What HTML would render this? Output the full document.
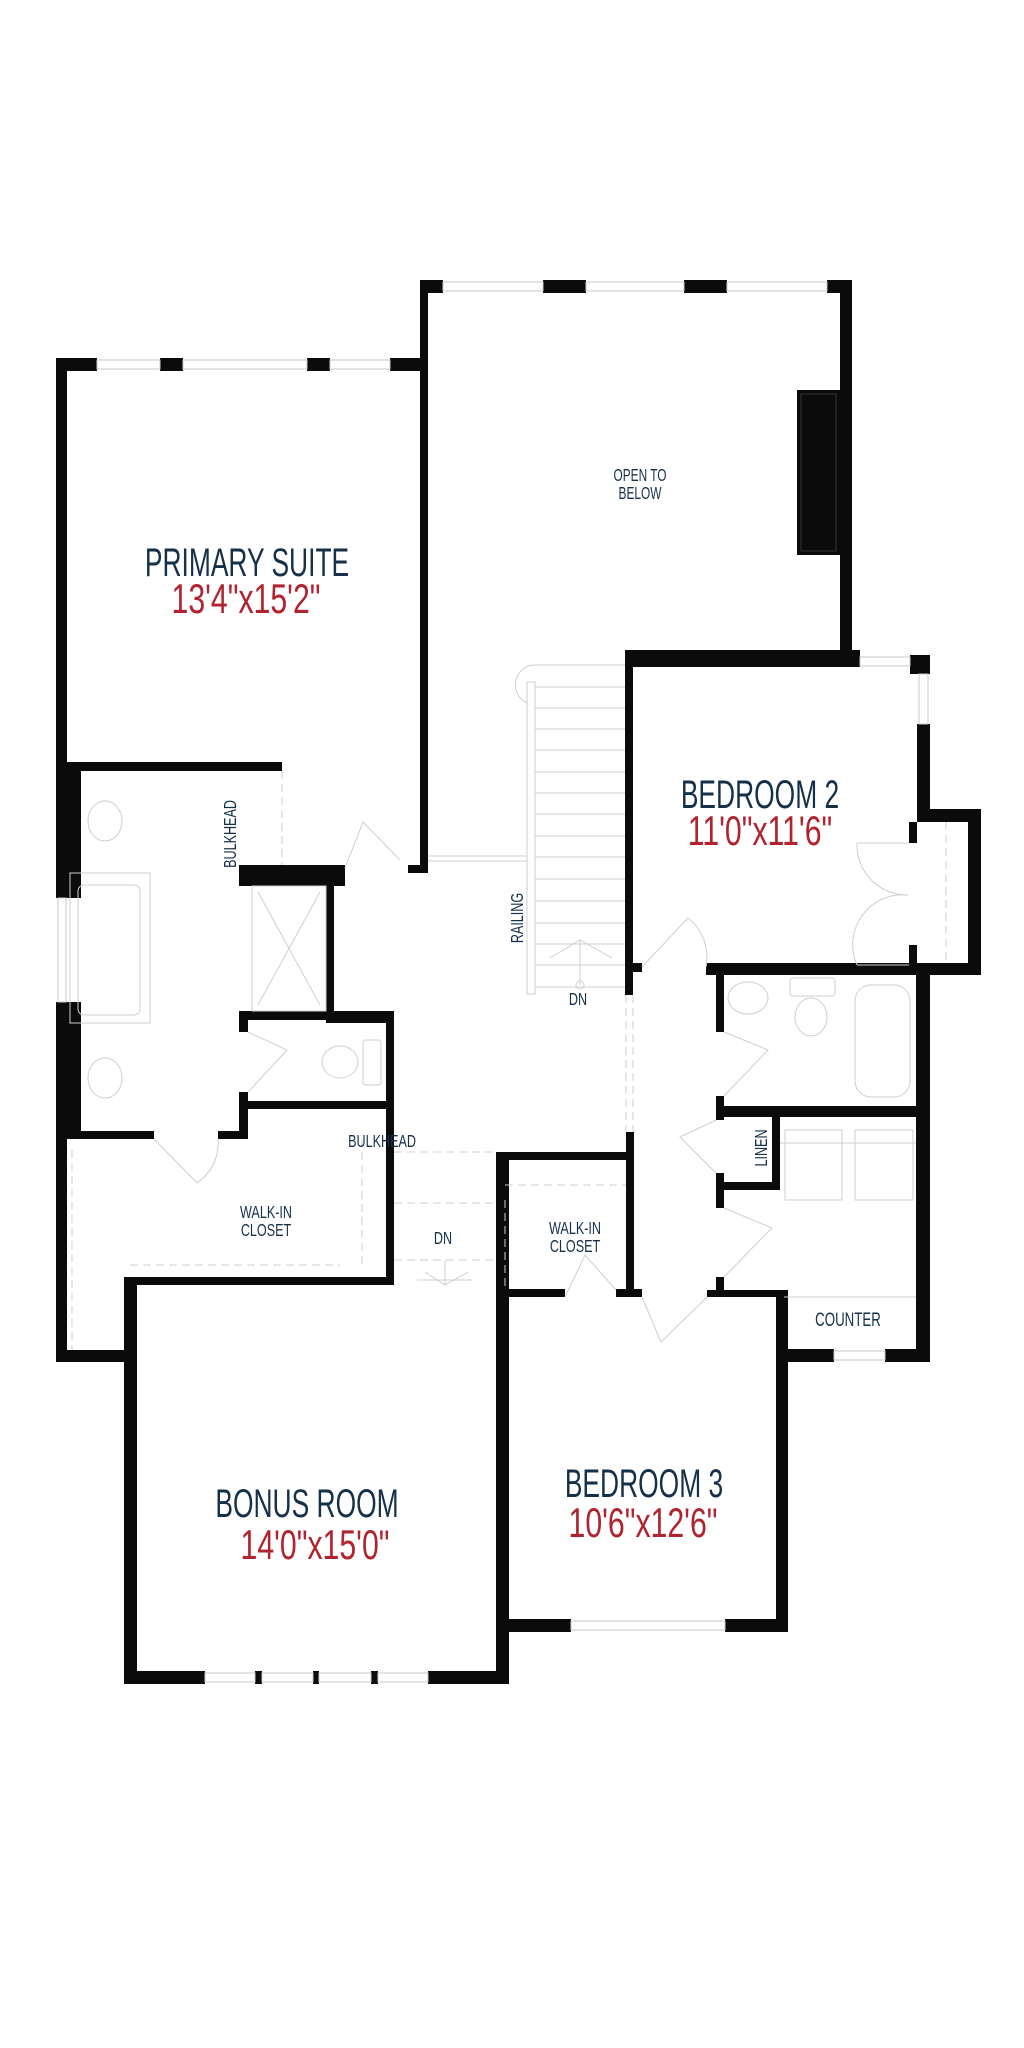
<!DOCTYPE html>
<html><head><meta charset="utf-8"><style>
html,body{margin:0;padding:0;background:#fff;}
svg{display:block;}
.t{font-family:"Liberation Sans",sans-serif;fill:#16304a;}
.r{font-family:"Liberation Sans",sans-serif;fill:#b0232f;}
</style></head><body>
<svg width="1024" height="2048" viewBox="0 0 1024 2048" xmlns="http://www.w3.org/2000/svg">
<g fill="#0b0b0b">
<rect x="56" y="358" width="41" height="13"/><rect x="160" y="358" width="23" height="13"/><rect x="307" y="358" width="23" height="13"/><rect x="390" y="358" width="38" height="13"/>
<rect x="420" y="280" width="23" height="13"/><rect x="543" y="280" width="43" height="13"/><rect x="684" y="280" width="43" height="13"/><rect x="827" y="280" width="25" height="13"/>
<rect x="420" y="280" width="8" height="593"/><rect x="408" y="865" width="20" height="8"/>
<rect x="840" y="280" width="12" height="387"/>
<rect x="797" y="390" width="43" height="165"/>
<rect x="625" y="650" width="235" height="17"/>
<rect x="910" y="655" width="20" height="19"/>
<rect x="917" y="724" width="13" height="98"/>
<rect x="917" y="809" width="64" height="13"/><rect x="968" y="809" width="13" height="166"/>
<rect x="706" y="963" width="275" height="12"/>
<rect x="909" y="822" width="8" height="21"/><rect x="909" y="945" width="8" height="18"/>
<rect x="625" y="650" width="8" height="345"/><rect x="633" y="963" width="9" height="9"/>
<rect x="626" y="1132" width="8" height="165"/>
<rect x="716" y="963" width="8" height="69"/><rect x="716" y="1096" width="8" height="24"/><rect x="716" y="1173" width="8" height="35"/><rect x="716" y="1277" width="8" height="20"/>
<rect x="916" y="963" width="14" height="399"/>
<rect x="716" y="1106" width="210" height="11"/>
<rect x="772" y="1106" width="8" height="84"/><rect x="716" y="1182" width="64" height="8"/>
<rect x="707" y="1290" width="77" height="7"/>
<rect x="776" y="1290" width="12" height="342"/>
<rect x="776" y="1349" width="58" height="13"/><rect x="885" y="1349" width="45" height="13"/>
<rect x="497" y="1289" width="68" height="8"/><rect x="616" y="1289" width="26" height="8"/>
<rect x="497" y="1152" width="137" height="8"/>
<rect x="496" y="1152" width="13" height="532"/>
<rect x="496" y="1619" width="75" height="13"/><rect x="725" y="1619" width="63" height="13"/>
<rect x="124" y="1671" width="81" height="13"/><rect x="255" y="1671" width="7" height="13"/><rect x="313" y="1671" width="6" height="13"/><rect x="371" y="1671" width="7" height="13"/><rect x="428" y="1671" width="81" height="13"/>
<rect x="124" y="1277" width="13" height="407"/>
<rect x="129" y="1277" width="265" height="8"/>
<rect x="386" y="1011" width="8" height="274"/>
<rect x="56" y="1350" width="81" height="12"/>
<rect x="56" y="358" width="11" height="1004"/>
<rect x="56" y="762" width="25" height="136"/><rect x="56" y="1002" width="25" height="137"/>
<rect x="56" y="762" width="226" height="9"/>
<rect x="239" y="865" width="106" height="21"/><rect x="326" y="865" width="8" height="158"/>
<rect x="326" y="1011" width="67" height="12"/><rect x="239" y="1011" width="95" height="9"/>
<rect x="239" y="1011" width="9" height="21"/><rect x="239" y="1092" width="9" height="47"/>
<rect x="248" y="1101" width="145" height="8"/>
<rect x="56" y="1131" width="98" height="8"/><rect x="218" y="1131" width="30" height="8"/>
</g>
<rect x="56" y="898" width="11" height="104" fill="#fff"/>
<g fill="#fff" stroke="#c8c8c8" stroke-width="1">
<rect x="97" y="360" width="63" height="9"/><rect x="183" y="360" width="124" height="9"/><rect x="330" y="360" width="60" height="9"/>
<rect x="443" y="282" width="100" height="9"/><rect x="586" y="282" width="98" height="9"/><rect x="727" y="282" width="100" height="9"/>
<rect x="860" y="657" width="50" height="9"/><rect x="919" y="674" width="9" height="50"/>
<rect x="58" y="898" width="8" height="104"/>
<rect x="834" y="1351" width="51" height="9"/>
<rect x="571" y="1621" width="154" height="9"/>
<rect x="205" y="1673" width="50" height="9"/><rect x="262" y="1673" width="51" height="9"/><rect x="319" y="1673" width="52" height="9"/><rect x="378" y="1673" width="50" height="9"/>
</g>
<g fill="none" stroke="#cfcfcf" stroke-width="1">
<rect x="801" y="394" width="35" height="157" stroke="#333"/>
<rect x="527" y="682" width="8" height="312"/>
<path d="M533 665 H625 M533 665 A20 20 0 0 0 527 703"/>
<path d="M535 687H625M535 708H625M535 729H625M535 750H625M535 772H625M535 793H625M535 814H625M535 836H625M535 857H625M535 879H625M535 901H625M535 923H625M535 944H625M535 965H625M535 987H625"/>
<path d="M428 856H527M428 861H527"/>
<path d="M580 940V985M550 958L580 940L612 958"/>
<circle cx="580" cy="985" r="4"/>
<path d="M626 995V1132M633 995V1132" stroke-dasharray="8 5"/>
<path d="M642 967L688 918A50 50 0 0 1 706 967"/>
<path d="M857 843A50 50 0 0 0 908 895M857 965A50 50 0 0 1 908 895M857 843H909M857 965H909"/>
<path d="M946 822V963" stroke-dasharray="8 5"/>
<path d="M724 1032L768 1050L724 1096"/>
<path d="M724 1208L772 1228L724 1277"/>
<path d="M716 1120L680 1137L716 1173"/>
<path d="M642 1297L661 1342L707 1297"/>
<path d="M345 868L363 822L400 860"/>
<path d="M248 1032L287 1050L248 1092"/>
<path d="M154 1139L197 1183A48 48 0 0 0 218 1139"/>
<path d="M565 1297L585 1255L616 1290"/>
<ellipse cx="748" cy="998" rx="20" ry="16"/><ellipse cx="811" cy="1017" rx="16" ry="19"/><rect x="790" y="978" width="45" height="18" rx="3"/>
<rect x="855" y="985" width="55" height="112" rx="16"/>
<rect x="785" y="1130" width="57" height="70"/><rect x="855" y="1130" width="58" height="70"/>
<path d="M784 1297H916M780 1143H916" />
<ellipse cx="105" cy="821" rx="17" ry="20"/><ellipse cx="105" cy="1078" rx="17" ry="20"/>
<rect x="70" y="873" width="80" height="150"/><rect x="78" y="885" width="62" height="130" rx="6"/>
<rect x="252" y="886" width="74" height="125"/><path d="M258 892L320 1005M320 892L258 1005"/>
<ellipse cx="340" cy="1062" rx="18" ry="16"/><rect x="363" y="1040" width="18" height="45" rx="3"/>
<path d="M282 771V865M394 1152H497M394 1203H497M394 1260H497" stroke-dasharray="8 5"/>
<path d="M130 1265H340M72 1150V1350M362 1139V1265" stroke-dasharray="8 5"/>
<path d="M417 1280H472M445 1260V1285M425 1272L445 1285L468 1272"/>
<path d="M505 1185H626M505 1200V1289" stroke-dasharray="8 5"/>
</g>
<g text-anchor="middle">
<text class="t" font-size="40" transform="translate(247,576) scale(0.66,1)">PRIMARY SUITE</text>
<text class="r" font-size="42" transform="translate(246,613) scale(0.72,1)">13'4"x15'2"</text>
<text class="t" font-size="18" transform="translate(640,481) scale(0.66,1)">OPEN TO</text>
<text class="t" font-size="18" transform="translate(640,499) scale(0.66,1)">BELOW</text>
<text class="t" font-size="40" transform="translate(760,808) scale(0.66,1)">BEDROOM 2</text>
<text class="r" font-size="42" transform="translate(760,845) scale(0.72,1)">11'0"x11'6"</text>
<text class="t" font-size="18" transform="translate(236,834) rotate(-90) scale(0.7,1)">BULKHEAD</text>
<text class="t" font-size="18" transform="translate(523,918) rotate(-90) scale(0.7,1)">RAILING</text>
<text class="t" font-size="18" transform="translate(578,1005) scale(0.7,1)">DN</text>
<text class="t" font-size="18" transform="translate(382,1147) scale(0.7,1)">BULKHEAD</text>
<text class="t" font-size="18" transform="translate(266,1218) scale(0.7,1)">WALK-IN</text>
<text class="t" font-size="18" transform="translate(266,1236) scale(0.7,1)">CLOSET</text>
<text class="t" font-size="18" transform="translate(443,1244) scale(0.7,1)">DN</text>
<text class="t" font-size="18" transform="translate(575,1234) scale(0.7,1)">WALK-IN</text>
<text class="t" font-size="18" transform="translate(575,1252) scale(0.7,1)">CLOSET</text>
<text class="t" font-size="18" transform="translate(767,1148) rotate(-90) scale(0.7,1)">LINEN</text>
<text class="t" font-size="19" transform="translate(848,1326) scale(0.7,1)">COUNTER</text>
<text class="t" font-size="40" transform="translate(307,1517) scale(0.66,1)">BONUS ROOM</text>
<text class="r" font-size="42" transform="translate(315,1559) scale(0.72,1)">14'0"x15'0"</text>
<text class="t" font-size="40" transform="translate(644,1497) scale(0.66,1)">BEDROOM 3</text>
<text class="r" font-size="42" transform="translate(643,1537) scale(0.72,1)">10'6"x12'6"</text>
</g>
</svg>
</body></html>
